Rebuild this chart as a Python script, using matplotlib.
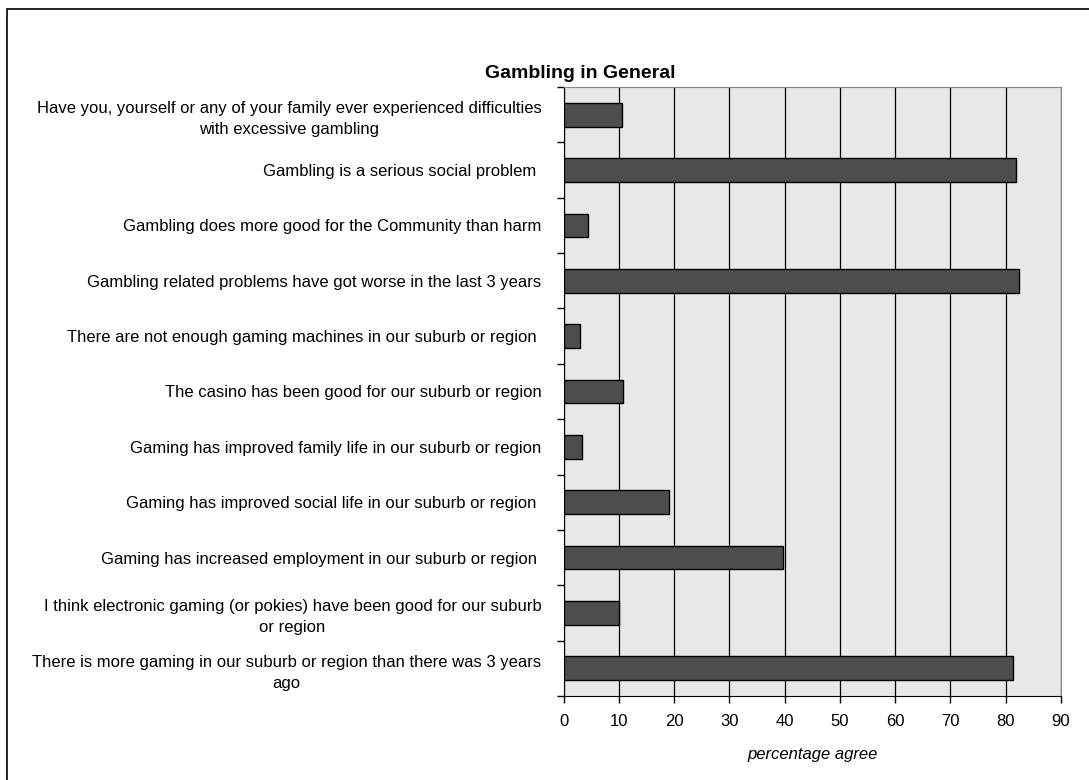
import matplotlib.pyplot as plt
import matplotlib.patches as patches
import numpy as np

plt.rcParams['font.family'] = ['Liberation Sans', 'DejaVu Sans']

# survey statements, top to bottom
statements = [
    "Have you, yourself or any of your family ever experienced difficulties\nwith excessive gambling",
    "Gambling is a serious social problem ",
    "Gambling does more good for the Community than harm",
    "Gambling related problems have got worse in the last 3 years",
    "There are not enough gaming machines in our suburb or region ",
    "The casino has been good for our suburb or region",
    "Gaming has improved family life in our suburb or region",
    "Gaming has improved social life in our suburb or region ",
    "Gaming has increased employment in our suburb or region ",
    "I think electronic gaming (or pokies) have been good for our suburb\nor region",
    "There is more gaming in our suburb or region than there was 3 years\nago",
]
agree = [10.6, 81.9, 4.4, 82.4, 3.0, 10.8, 3.3, 19.1, 39.7, 10.0, 81.3]
xticks = [0, 10, 20, 30, 40, 50, 60, 70, 80, 90]

n = len(statements)
pos = np.arange(n)

fig = plt.figure(figsize=(10.89, 7.8), dpi=100)
ax = fig.add_axes([563.5 / 1089, 1 - 696 / 780, (1061 - 563.5) / 1089, (696 - 87) / 780])

ax.set_facecolor('#e8e8e8')
ax.barh(pos, agree, height=0.43, color='#4d4d4d', edgecolor='black', linewidth=1, zorder=3)

ax.set_xlim(0, 90)
ax.set_ylim(n - 0.5, -0.5)
ax.set_xticks(xticks)
ax.set_xticklabels([str(t) for t in xticks], fontsize=12)
ax.xaxis.grid(True, color='black', linewidth=0.9, zorder=1)
ax.set_axisbelow(True)

# boundary ticks between categories, labels in the middle
ax.set_yticks(np.arange(-0.5, n, 1))
ax.set_yticklabels([])
ax.set_yticks(pos, minor=True)
ax.set_yticklabels(statements, minor=True, fontsize=12, ha='right',
                   multialignment='center', linespacing=1.5)
ax.tick_params(axis='y', which='minor', length=0, pad=16)
ax.tick_params(axis='y', which='major', length=5, width=1, direction='out')
ax.tick_params(axis='x', length=5, width=1, direction='out', pad=8)

ax.spines['left'].set_color('black')
ax.spines['bottom'].set_color('black')
ax.spines['top'].set_color('#888888')
ax.spines['right'].set_color('#888888')

ax.set_xlabel('percentage agree', fontsize=12, style='italic', labelpad=13)

fig.text(580 / 1089, 1 - 73 / 780, 'Gambling in General', fontsize=14,
         fontweight='bold', ha='center', va='center')

# chart border
fig.patches.append(patches.Rectangle((7 / 1089, -0.1), 1.2, 1 - 9 / 780 + 0.1,
                                     transform=fig.transFigure, fill=False,
                                     edgecolor='black', linewidth=1.2))

fig.savefig('out.png', dpi=100)
